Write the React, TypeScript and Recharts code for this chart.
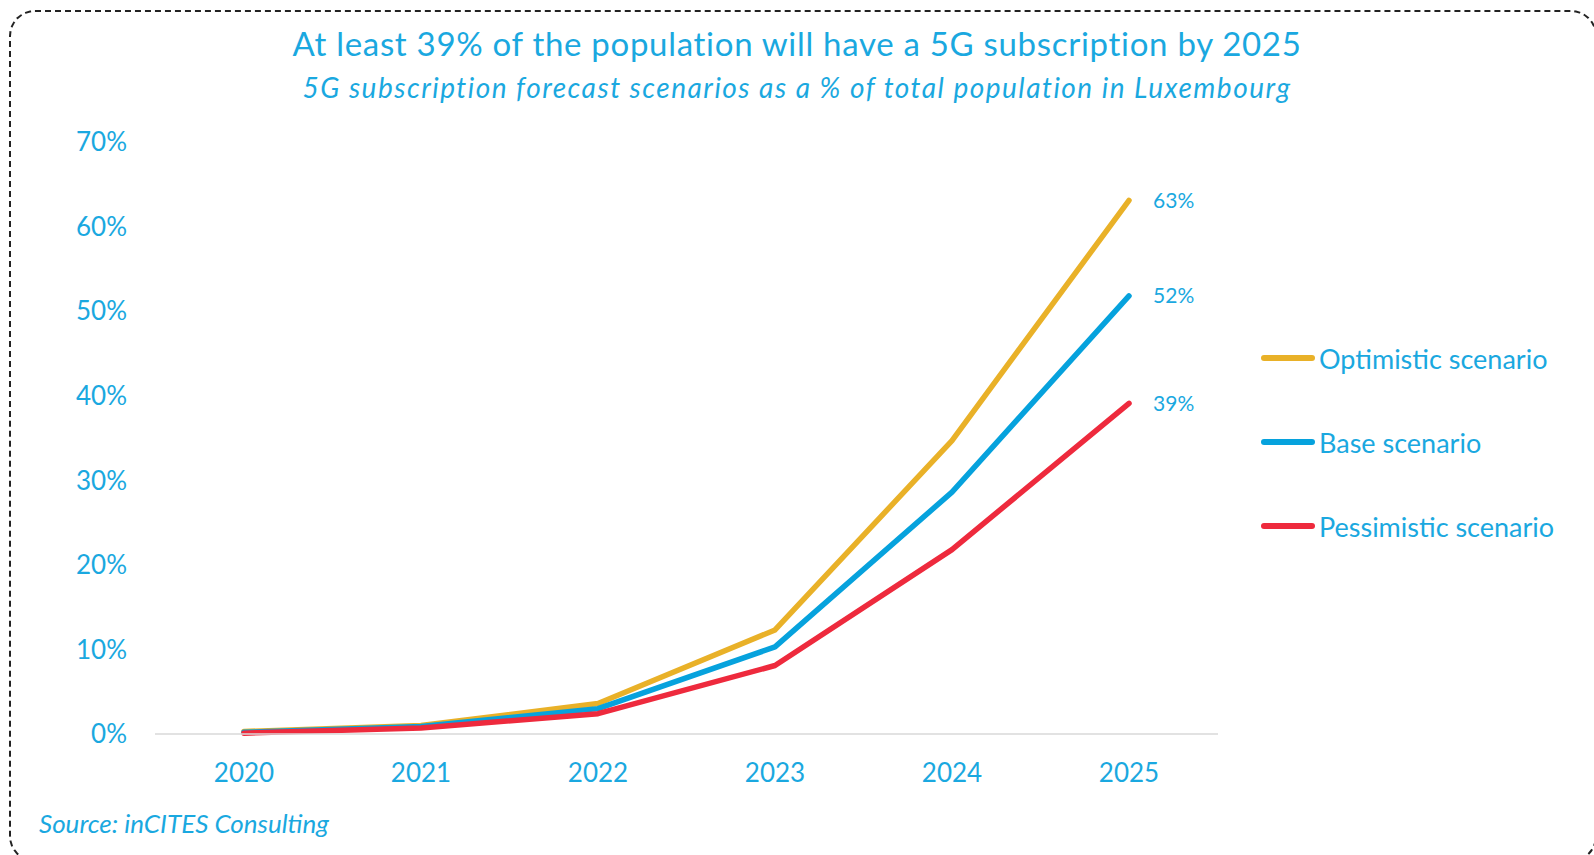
import React from "react";
import { LineChart, Line, XAxis, YAxis, LabelList } from "recharts";

// ======================
// Data
// ======================
const years = ["2020", "2021", "2022", "2023", "2024", "2025"];
const optimistic = [0.3, 1.0, 3.6, 12.3, 34.7, 63.1];
const base = [0.2, 0.9, 3.0, 10.3, 28.6, 51.8];
const pessimistic = [0.1, 0.7, 2.4, 8.1, 21.8, 39.1];
const yTicks = [0, 10, 20, 30, 40, 50, 60, 70];

const SERIES = [
  { key: "optimistic", name: "Optimistic scenario", color: "#E9B128" },
  { key: "base", name: "Base scenario", color: "#06A2DD" },
  { key: "pessimistic", name: "Pessimistic scenario", color: "#EE2A3D" },
];

const BLUE = "#1AA8E0";
const FONT = "Lato, 'Open Sans', sans-serif";

const data = years.map((year, i) => ({
  year,
  optimistic: optimistic[i],
  base: base[i],
  pessimistic: pessimistic[i],
}));

// label only on the last point
const EndLabel = (props: any) => {
  const { x, y, value, index } = props;
  if (index !== years.length - 1) return null;
  return (
    <text x={x + 24} y={y} dy="0.35em" fill={BLUE} fontSize={21} fontFamily={FONT} textAnchor="start">
      {Math.round(value)}%
    </text>
  );
};

export default function App() {
  return (
    <div style={{ position: "absolute", left: 0, top: 0, width: 1594, height: 855, overflow: "hidden", background: "#fff" }}>
      {/* dashed frame */}
      <div
        style={{
          position: "absolute",
          left: 9,
          top: 10,
          width: 1588,
          height: 852,
          border: "2px dashed #222",
          borderRadius: 26,
          boxSizing: "border-box",
        }}
      />
      <div style={{ position: "absolute", left: 0, top: 23, width: 1594, textAlign: "center", fontFamily: FONT, color: BLUE, fontSize: 33, letterSpacing: 0.7 }}>
        At least 39% of the population will have a 5G subscription by 2025
      </div>
      <div style={{ position: "absolute", left: 0, top: 70, width: 1594, textAlign: "center", fontFamily: FONT, color: BLUE, fontSize: 28, fontStyle: "italic", letterSpacing: 1.5 }}>
        5G subscription forecast scenarios as a % of total population in Luxembourg
      </div>

      <div style={{ position: "absolute", left: 0, top: 0 }}>
        <LineChart width={1594} height={855} data={data} margin={{ top: 142, right: 376, bottom: 0, left: 0 }}>
          <XAxis
            dataKey="year"
            padding={{ left: 89, right: 89 }}
            axisLine={{ stroke: "#D9D9D9", strokeWidth: 1.5 }}
            tickLine={false}
            tickMargin={24}
            height={121}
            tick={{ fill: BLUE, fontSize: 26, fontFamily: FONT }}
          />
          <YAxis
            width={155}
            domain={[0, 70]}
            ticks={yTicks}
            axisLine={false}
            tickLine={false}
            tickFormatter={(v) => `${v}%`}
            tick={{ fill: BLUE, fontSize: 26, fontFamily: FONT, dx: -20 }}
          />
          {SERIES.map((s) => (
            <Line
              key={s.key}
              dataKey={s.key}
              name={s.name}
              stroke={s.color}
              strokeWidth={5.5}
              strokeLinecap="round"
              strokeLinejoin="round"
              dot={false}
              activeDot={false}
              isAnimationActive={false}
            >
              <LabelList dataKey={s.key} content={<EndLabel />} />
            </Line>
          ))}
        </LineChart>
      </div>

      {/* legend */}
      <div style={{ position: "absolute", left: 1261, top: 316, fontFamily: FONT }}>
        {SERIES.map((s) => (
          <div key={s.key} style={{ display: "flex", alignItems: "center", height: 84 }}>
            <div style={{ width: 54, height: 6, borderRadius: 3, background: s.color, marginRight: 4 }} />
            <span style={{ color: BLUE, fontSize: 27 }}>{s.name}</span>
          </div>
        ))}
      </div>

      <div style={{ position: "absolute", left: 39, top: 807, fontFamily: FONT, color: BLUE, fontSize: 26, fontStyle: "italic" }}>
        Source: inCITES Consulting
      </div>
    </div>
  );
}
